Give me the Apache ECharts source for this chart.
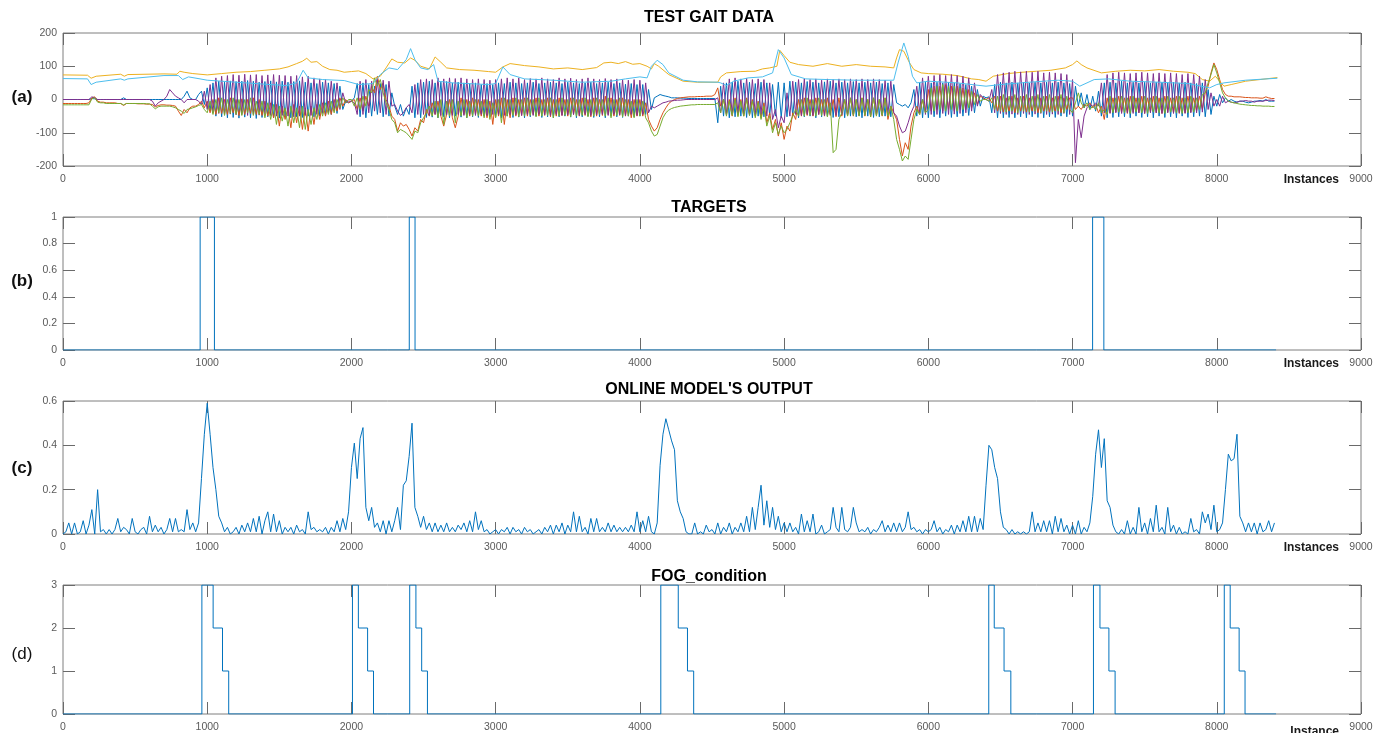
<!DOCTYPE html>
<html>
<head>
<meta charset="utf-8">
<title>Test gait data</title>
<script src="https://cdn.jsdelivr.net/npm/echarts@6/dist/echarts.min.js"></script>
<style>
html, body { margin: 0; padding: 0; background: #fff; }
#chart { width: 1384px; height: 733px; }
</style>
</head>
<body>
<div id="chart"></div>
<script>
// sample spacing (instances) of the row arrays; row r starts at r*1000
var STEP = 20;

var blueRows = [
	[0,0,0,0,0,0,0,0,0,0, 3,2,0,0,0,0,0,0,0,0, 0,5,0,0,0,0,0,0,0,0, 0,0,0,0,0,0,0,0,0,0, 0,0,10,25,5,0,0,15,25,-15],
	[35,-35,50,-50,55,-52,52,-55,56,-54, 54,-56,55,-53,57,-55,55,-57,52,-54, 54,-52,56,-55,53,-56,55,-53,52,-55, 54,-52,56,-54,52,-50,50,-52,48,-50, 52,-48,50,-45,48,-42,40,-30,-5,-10],
	[-5,5,48,-52,50,-55,45,-50,40,-45, 48,-52,45,-50,20,-20,-45,-15,-50,-25, -45,40,-55,50,-55,52,-54,55,-53,50, -55,52,-52,54,-55,50,-50,52,-53,50, -55,48,-52,50,-54,45,-50,48,-52,45],
	[-52,50,-55,48,-50,52,-54,50,-53,48, -55,50,-52,52,-50,48,-54,50,-52,52, -55,50,-52,48,-50,52,-53,50,-55,48, -52,50,-50,52,-54,48,-52,50,-55,52, -50,48,-52,50,-54,46,-50,48,-52,45],
	[-50,45,-45,30,-30,5,10,15,12,10, 8,5,5,5,4,4,4,3,3,3, 3,3,3,3,3,3,3,-70,40,-50, 50,-55,52,-52,55,-50,50,-54,52,-55, 48,-50,52,-52,50,-48,45,-50,52,-55],
	[50,-52,55,-50,52,-55,50,-52,54,-50, 52,-55,50,-52,53,-50,55,-54,50,-52, 52,-55,50,-50,54,-52,50,-55,52,-50, 50,-54,52,-52,48,-50,50,-52,45,-10, -15,-20,-15,-25,-10,30,-50,50,-55,52],
	[-55,50,-52,52,-55,50,-50,52,-54,50, -52,48,-50,45,-48,40,-40,30,-20,10, 5,8,-40,45,-55,52,-55,50,-54,52, -55,50,-52,52,-55,50,-52,52,-54,50, -55,52,-52,50,-54,52,-50,50,-52,48],
	[-50,40,-20,20,-25,15,-30,10,-35,25, -50,50,-55,52,-54,50,-52,55,-52,50, -55,52,-50,50,-54,52,-52,50,-55,52, -50,52,-54,50,-52,52,-55,50,-50,52, -54,50,-52,48,-50,50,-52,30,-45,10],
	[-20,15,-10,5,-5,0,-5,-8,-5,-5,-8,-10,-8,-5,-5,-3,-5,0,-5,-5,-5]
];
var redRows = [
	[-12,-12,-12,-12,-12,-12,-12,-12,-12,-10, 5,8,-5,-8,-8,-10,-10,-10,-10,-12, -12,-18,-12,-12,-12,-12,-13,-13,-13,-14, -14,-15,-22,-18,-16,-16,-17,-17,-18,-20, -35,-48,-30,-40,-25,-20,-20,-15,-5,-25],
	[-5,-40,0,-45,5,-42,0,-45,5,-40, 0,-48,2,-45,0,-42,5,-45,0,-48, -5,-50,-10,-55,-15,-80,-20,-60,-25,-85, -15,-70,-20,-90,-25,-95,-20,-75,-15,-60, -10,-50,-5,-45,0,-35,5,-20,0,-10],
	[-5,0,-30,5,-35,10,-20,40,20,70, 30,50,0,-20,-50,-60,-95,-70,-80,-75, -90,-110,-85,-95,-60,-70,-30,-50,-10,-45, -5,-50,-80,-45,0,-55,-85,-50,5,-45, 0,-50,5,-45,0,-50,0,-55,-5,-75],
	[0,-50,5,-75,0,-55,5,-50,0,-48, 5,-50,0,-45,5,-50,0,-48,5,-52, 0,-50,5,-48,0,-50,5,-45,0,-50, 5,-48,0,-52,5,-50,0,-48,10,-45, 5,-50,0,-48,5,-50,0,-55,0,-50],
	[0,-50,-10,-60,-80,-95,-85,-60,-40,-25, -12,-5,0,3,5,6,7,8,8,8, 9,9,9,10,10,10,15,35,-20,0, -45,0,-50,5,-48,0,-50,5,-45,0, -50,-5,-55,-10,-70,-40,-90,-60,-110,-70],
	[-120,-80,-95,-40,-60,0,-50, 5,-48,0,-50,5,-45,0,-50,5,-48, 0,-52,5,-50,0,-48,5,-50,0,-48, 5,-50,0,-52,5,-48,0,-50,5,-60, -20,-40, -60,-120,-170,-130,-150,-80,-40,-20,-45,0,-40],
	[30,-35,40,-30,40,-35,45,-30,40,-35, 40,-30,35,-30,30,-25,20,-15,10,5, 0,5,-10,10,-35,10,-38,5,-35,10, -40,5,-35,10,-38,5,-35,10,-40,5, -35,10,-38,5,-35,10,-40,5,-30,5],
	[5,-30,-20,-30,-15,-20,-10,-25,-15,-40, -20,-60,5,-40,5,-38,10,-40,5,-42, 10,-38,5,-40,10,-42,5,-38,10,-40, 5,-42,10,-38,5,-40,10,-42,5,-40, 10,-38,5,-35,10,-30,20,40,80,110],
	[90,60,30,15,10,10,8,8,8,7,6,6,5,5,5,4,4,8,5,3,3]
];
var purpleRows = [
	[0,0,0,0,0,0,0,0,0,0, 8,5,0,0,0,0,0,0,0,0, 0,0,0,0,0,0,0,0,0,0, 0,-5,-20,-10,-5,0,10,30,20,10, 5,0,-10,0,0,0,0,-5,-15,25],
	[-30,45,-40,65,-42,70,-45,72,-44,75, -46,73,-45,76,-48,74,-45,75,-47,72, -46,74,-48,75,-50,73,-48,72,-50,70, -52,72,-50,68,-48,70,-48,65,-45,62, -42,60,-40,55,-35,50,-30,20,-10,-5],
	[-5,-10,-45,55,-45,60,-40,55,-35,60, -40,58,-45,55,-20,-15,-35,-48,-40,-25, -15,-40,45,-45,60,-45,62,-48,60,-45, 65,-48,62,-46,65,-48,63,-45,65,-48, 62,-45,60,-48,62,-45,60,-48,58,-45],
	[60,-45,62,-48,65,-45,62,-46,65,-48, 60,-45,63,-48,62,-45,65,-46,62,-48, 60,-45,65,-48,62,-46,64,-45,60,-48, 62,-45,65,-48,62,-46,60,-45,63,-48, 60,-45,62,-46,60,-48,58,-45,60,-48],
	[58,-45,50,-40,-20,-25,-20,-15,-10,-8, -5,-4,-3,-2,-2,-1,0,0,0,0, 0,0,0,0,0,0,0,5,-40,50, -45,62,-45,65,-42,62,-45,64,-48,60, -45,62,-45,60,-50,50,-60,-30,-85,-50],
	[-70,20,-50,55,-45,60,-48,62,-45,60, -48,62,-45,58,-48,62,-45,60,-48,62, -46,60,-48,62,-45,60,-48,62,-45,60, -48,62,-45,60,-46,58,-45,55,-40,-50, -80,-100,-95,-70,-40,-20,40,-40,65,-45],
	[70,-45,72,-45,75,-42,72,-45,75,-44, 72,-42,70,-40,65,-35,50,-20,15,5, 0,-5,30,-40,75,-42,80,-45,82,-44, 85,-45,83,-42,85,-45,82,-44,85,-42, 80,-45,82,-44,80,-45,78,-42,75,-45],
	[60,-190,-60,-115,-50,-25,-15,-20,-10,-20, 50,-40,75,-42,80,-40,82,-42,80,-40, 78,-42,80,-40,82,-42,80,-40,78,-40, 80,-42,78,-40,80,-42,78,-40,75,-42, 78,-40,75,-40,70,-38,60,-30,20,-20],
	[0,-20,10,-10,-5,-8,-10,-8,-5,-5,-3,-5,-5,-8,-5,-5,-5,-3,-2,-2,-3]
];
var greenRows = [
	[-16,-16,-16,-16,-16,-16,-16,-16,-16,-16, 2,5,-8,-10,-10,-12,-12,-12,-12,-12, -12,-16,-12,-12,-12,-12,-12,-12,-12,-13, -13,-20,-28,-22,-20,-20,-20,-20,-22,-25, -30,-35,-42,-30,-28,-25,-22,-18,-15,-30],
	[-40,-5,-45,0,-40,5,-48,0,-42,5, -45,0,-48,0,-40,5,-48,-5,-45,-5, -55,-10,-60,-15,-75,-20,-65,-25,-80,-20, -70,-25,-85,-20,-90,-30,-75,-25,-60,-15, -50,-10,-45,-5,-40,0,-25,5,-10,0],
	[0,-20,5,-30,10,-20,30,20,65,40, 60,20,-10,-30,-60,-70,-100,-90,-95,-100, -110,-120,-95,-100,-70,-55,-40,-20,-50,-5, -55,0,-75,-5,-50,0,-70,-5,-50,0, -55,-5,-50,0,-50,-5,-55,0,-60,-10],
	[-55,0,-70,5,-50,0,-48,5,-52,0, -50,5,-48,0,-52,5,-50,0,-48,5, -55,0,-50,5,-48,0,-52,5,-50,0, -48,5,-52,0,-50,5,-45,0,-50,5, -55,0,-48,5,-52,0,-50,-5,-55,0],
	[-50,-5,-55,-70,-95,-110,-105,-80,-55,-40, -32,-27,-24,-22,-20,-19,-18,-17,-16,-16, -15,-15,-15,-15,-15,-15,-15,-10,-40,0, -50,-5,-48,0,-52,-5,-50,0,-48,-5, -55,-10,-60,-20,-80,-50,-100,-70,-105,-80],
	[-100,-90,-70,-50,-30,-50, 0,-50,5,-48,0,-50,5,-48,0,-52,-10, -160,-150,-60, -40,0,-50,5,-48,0,-50,5,-48,0,-52,5,-50,0,-48,5,-50,-20,-60, -120,-150,-185,-170,-180,-120,-60,-30,-45,0,-40],
	[-30,35,-35,40,-30,45,-35,40,-30,40, -35,35,-30,30,-25,25,-15,15,-5,0, 0,-5,5,-30,10,-35,15,-38,10,-35, 15,-40,10,-35,15,-38,10,-35,15,-40, 10,-35,15,-38,10,-35,15,-40,10,-30],
	[-40,-10,20,-10,-25,-10,-30,-20,-30,-10, -40,-30,-45,10,-40,5,-38,10,-40,5, -42,10,-38,5,-40,10,-42,5,-38,10, -40,5,-42,10,-38,5,-40,10,-42,5, -40,10,-38,5,-30,15,20,50,75,105],
	[80,50,20,5,-5,-8,-10,-12,-14,-15,-16,-17,-18,-18,-19,-19,-20,-20,-20,-21,-21]
];
// slow channels as [instance, value]
var yellowPts = [[0,74],[170,73],[195,64],[230,70],[400,76],[425,70],[450,75],[700,77],[790,76],[810,85],[840,82],[900,78],[1000,74],[1100,78],[1200,82],[1300,84],[1400,88],[1500,92],[1560,98],[1620,108],[1660,115],[1690,124],[1720,112],[1760,114],[1800,100],[1850,90],[1900,88],[1950,82],[2000,84],[2050,86],[2100,78],[2150,62],[2200,70],[2240,95],[2280,122],[2320,112],[2370,110],[2410,125],[2440,118],[2480,100],[2540,92],[2580,128],[2620,112],[2660,95],[2750,90],[2850,88],[2950,84],[3000,82],[3050,98],[3100,108],[3200,102],[3300,98],[3400,92],[3500,95],[3600,90],[3700,96],[3750,110],[3800,112],[3850,108],[3900,114],[3950,106],[4000,108],[4050,100],[4080,92],[4100,108],[4130,100],[4200,75],[4300,55],[4400,52],[4540,52],[4560,68],[4600,80],[4700,84],[4800,85],[4850,92],[4900,95],[4950,100],[4970,148],[5000,132],[5040,112],[5100,105],[5200,100],[5300,108],[5400,100],[5500,105],[5600,100],[5700,98],[5760,95],[5780,125],[5800,150],[5830,145],[5870,110],[5900,90],[5950,80],[6000,78],[6100,76],[6200,72],[6300,62],[6350,60],[6400,55],[6450,70],[6550,78],[6650,82],[6750,85],[6850,88],[6950,95],[7000,105],[7030,116],[7060,105],[7100,95],[7200,80],[7300,85],[7400,88],[7500,86],[7600,90],[7700,85],[7800,82],[7850,78],[7900,60],[7950,55],[7990,70],[8050,40],[8100,45],[8200,55],[8300,60],[8420,66]];
var cyanPts = [[0,63],[170,62],[195,45],[230,52],[400,62],[425,58],[450,62],[700,72],[800,72],[830,60],[870,68],[950,62],[1000,58],[1200,52],[1400,46],[1550,42],[1620,50],[1665,88],[1700,65],[1800,60],[1950,57],[2050,45],[2150,48],[2200,75],[2260,95],[2320,90],[2380,120],[2410,153],[2440,120],[2480,95],[2530,90],[2570,105],[2600,55],[2700,50],[2800,48],[2950,45],[3000,48],[3050,98],[3100,75],[3200,62],[3400,58],[3600,52],[3800,55],[3900,62],[4000,68],[4050,65],[4080,100],[4120,118],[4160,105],[4200,80],[4300,58],[4400,53],[4540,52],[4560,50],[4600,42],[4650,55],[4750,65],[4850,68],[4920,80],[4960,150],[5000,125],[5050,75],[5150,62],[5300,60],[5500,58],[5700,58],[5760,58],[5790,110],[5830,170],[5860,130],[5890,70],[5920,50],[6000,55],[6200,50],[6400,40],[6500,45],[6700,52],[6900,58],[7000,55],[7050,40],[7150,60],[7250,62],[7400,55],[7600,52],[7800,48],[7950,35],[8000,45],[8050,50],[8200,58],[8420,64]];

// (b) targets: [instance where value starts, value]
var targetSteps = [[0,0],[951,1],[1050,0],[2401,1],[2441,0],[7139,1],[7217,0],[8411,0]];

// (c) online model output, every 20 instances
var modelRows = [
	[0,0.01,0.05,0,0.05,0,0.01,0.06,0,0.04, 0.11,0,0.2,0.01,0.02,0,0.02,0,0.02,0.07, 0.01,0.03,0.02,0,0.07,0.01,0,0.02,0.03,0, 0.08,0.01,0.04,0.01,0.03,0,0.02,0.07,0.01,0.07, 0.01,0.02,0.01,0.11,0.02,0.05,0.01,0.05,0.25,0.45],
	[0.59,0.45,0.3,0.2,0.08,0.05,0.01,0.03,0,0.01, 0.03,0,0.04,0.01,0.05,0.01,0.07,0.01,0.08,0, 0.06,0.1,0.01,0.09,0.01,0.06,0,0.03,0.01,0.03, 0,0.04,0.01,0.02,0,0.1,0.02,0.03,0.01,0.02, 0.01,0.03,0,0.03,0.01,0.06,0.01,0.07,0.02,0.1],
	[0.3,0.41,0.25,0.43,0.48,0.12,0.06,0.12,0.03,0.05, 0.01,0.06,0,0.06, 0.01,0.06,0.12,0.02,0.22,0.24,0.35,0.5,0.12,0.08, 0.03,0.08,0.02,0.05,0.01,0.05,0.01,0.04,0.01,0.05, 0.01,0.03,0.01,0.04,0.02,0.05,0.01,0.06,0.01,0.1, 0.02,0.06,0.01,0.02,0,0.01],
	[0.02,0,0.02,0.01,0.03,0,0.03,0.01,0.02,0, 0.03,0.01,0.02,0,0.01,0.02,0,0.03,0.01,0.04, 0,0.04,0.01,0.05,0,0.04,0.01,0.1,0.01,0.08, 0.01,0.03,0,0.07,0.01,0.07,0.01,0.03,0.01,0.05, 0.01,0.04,0.01,0.03,0.01,0.03,0.01,0.04,0.01,0.1],
	[0.01,0.06,0.01,0.08,0.01,0,0.05,0.31,0.45,0.52, 0.47,0.42,0.38,0.15,0.1,0.07,0.01,0,0,0.05, 0,0.01,0,0.04,0.01,0.02,0,0.05,0,0.03, 0.01,0.05,0,0.03,0.01,0.05,0.01,0.08,0.01,0.12, 0.02,0.12,0.22,0.04,0.15,0.03,0.12,0.02,0.08,0.01],
	[0.05,0.01,0.05,0.01,0.03,0,0.09,0.01,0.06,0.01, 0.09,0,0.01,0.04,0,0.01,0.02,0.12,0.03,0.01, 0.12,0.02,0.01,0.03,0.12,0.05,0.01,0.02,0.01,0.03, 0,0.02,0.01,0.03,0.06,0.01,0.04,0.01,0.05,0.01, 0.05,0.01,0.03,0.1,0.02,0.03,0.01,0.02,0,0.02],
	[0.01,0.02,0.06,0.01,0.03,0,0.02,0.01,0.04,0, 0.04,0.01,0.06,0.01,0.08,0.01,0.08,0.01,0.07,0.02, 0.22,0.4,0.38,0.3,0.25,0.1,0.03,0.02,0,0.02, 0,0.01,0,0.01,0,0.01,0.1,0.01,0.05,0.01, 0.06,0.01,0.06,0,0.08,0.01,0.07,0.01,0.04,0],
	[0.04,0,0.06,0,0.03,0.01,0.05,0.17,0.36,0.47, 0.3,0.43,0.15,0.12,0.04,0.01,0,0.02,0,0.06, 0,0.03,0,0.12,0.01,0.05,0,0.07,0.01,0.13, 0.01,0.03,0,0.12,0.01,0.04,0,0.03,0,0.01, 0,0.07,0.01,0.02,0,0.1,0.05,0.09,0.02,0.13],
	[0.01,0.02,0.05,0.2,0.36,0.33,0.34,0.45,0.08,0.05,0.01,0.05,0.01,0.05,0,0.05,0.01,0.02,0.06,0.01,0.05]
];

// (d) FOG condition: [instance where level starts, level]
var fogSteps = [[0,0],[963,3],[1041,2],[1106,1],[1149,0],[2007,3],[2048,2],[2112,1],[2153,0],[2404,3],[2447,2],[2487,1],[2527,0],[4145,3],[4266,2],[4330,1],[4373,0],[6419,3],[6457,2],[6525,1],[6572,0],[7145,3],[7190,2],[7252,1],[7295,0],[8052,3],[8093,2],[8155,1],[8196,0],[8411,0]];

var panelTitles = ['TEST GAIT DATA', 'TARGETS', "ONLINE MODEL'S OUTPUT", 'FOG_condition'];
var panelTags = ['(a)', '(b)', '(c)', '(d)'];
var axisNames = ['Instances', 'Instances', 'Instances', 'Instance'];
var yRanges = [[-200, 200, 100], [0, 1, 0.2], [0, 0.6, 0.2], [0, 3, 1]];

function rowsToPoints(rows) {
	var pts = [];
	rows.forEach(function (row, r) {
		row.forEach(function (v, k) { pts.push([r * 1000 + k * STEP, v]); });
	});
	return pts;
}

var FONT = "Arial, 'Liberation Sans', sans-serif";
var panelTop = [33, 217, 401, 585];
var panelH = 133;
var titleY = [18, 208, 390, 577];
var tagY = [97, 281, 468, 654];

var grids = [], xAxes = [], yAxes = [], texts = [];
panelTop.forEach(function (top, i) {
	grids.push({ left: 63, right: 23, top: top, height: panelH, show: true, borderColor: '#7f7f7f', borderWidth: 1 });
	var tick = { inside: true, length: 12, lineStyle: { color: '#6a6a6a' } };
	var noLine = { show: false, onZero: false };
	var lbl = { color: '#5a5a5a', fontSize: 10.5, fontFamily: FONT, formatter: function (v) { return String(+v.toFixed(2)); } };
	xAxes.push({
		type: 'value', gridIndex: i, position: 'bottom', min: 0, max: 9000, interval: 1000,
		axisLine: noLine, axisTick: tick, splitLine: { show: false },
		axisLabel: Object.assign({ margin: 8 }, lbl)
	});
	xAxes.push({
		type: 'value', gridIndex: i, position: 'top', min: 0, max: 9000, interval: 1000,
		axisLine: noLine, axisTick: tick, splitLine: { show: false }, axisLabel: { show: false }
	});
	var yr = yRanges[i];
	yAxes.push({
		type: 'value', gridIndex: i, position: 'left', min: yr[0], max: yr[1], interval: yr[2],
		axisLine: noLine, axisTick: tick, splitLine: { show: false },
		axisLabel: Object.assign({ margin: 6 }, lbl)
	});
	yAxes.push({
		type: 'value', gridIndex: i, position: 'right', min: yr[0], max: yr[1], interval: yr[2],
		axisLine: noLine, axisTick: tick, splitLine: { show: false }, axisLabel: { show: false }
	});

	texts.push({ type: 'text', x: 709, y: titleY[i], silent: true,
		style: { text: panelTitles[i], fill: '#000', font: 'bold 16px ' + FONT, textAlign: 'center', textVerticalAlign: 'middle', align: 'center', verticalAlign: 'middle' } });
	texts.push({ type: 'text', x: 22, y: tagY[i], silent: true,
		style: { text: panelTags[i], fill: '#111', font: (i < 3 ? 'bold ' : '') + '17px ' + FONT, textAlign: 'center', textVerticalAlign: 'middle', align: 'center', verticalAlign: 'middle' } });
	texts.push({ type: 'text', x: 1339, y: top + panelH + 14, silent: true,
		style: { text: axisNames[i], fill: '#1a1a1a', font: 'bold 12px ' + FONT, textAlign: 'right', textVerticalAlign: 'middle', align: 'right', verticalAlign: 'middle' } });
});

function line(data, color, idx, step) {
	return {
		type: 'line', data: data, xAxisIndex: idx * 2, yAxisIndex: idx * 2,
		showSymbol: false, symbol: 'none', silent: true, step: step || false,
		lineStyle: { color: color, width: 1 }
	};
}

var myChart = echarts.init(document.getElementById('chart'));
var option = {
	animation: false,
	backgroundColor: '#fff',
	grid: grids,
	xAxis: xAxes,
	yAxis: yAxes,
	graphic: texts,
	series: [
		line(rowsToPoints(blueRows), '#0072BD', 0),
		line(rowsToPoints(redRows), '#D95319', 0),
		line(yellowPts, '#EDB120', 0),
		line(rowsToPoints(purpleRows), '#7E2F8E', 0),
		line(rowsToPoints(greenRows), '#77AC30', 0),
		line(cyanPts, '#4DBEEE', 0),
		line(targetSteps, '#0072BD', 1, 'end'),
		line(rowsToPoints(modelRows), '#0072BD', 2),
		line(fogSteps, '#0072BD', 3, 'end')
	]
};
myChart.setOption(option);
</script>
</body>
</html>
